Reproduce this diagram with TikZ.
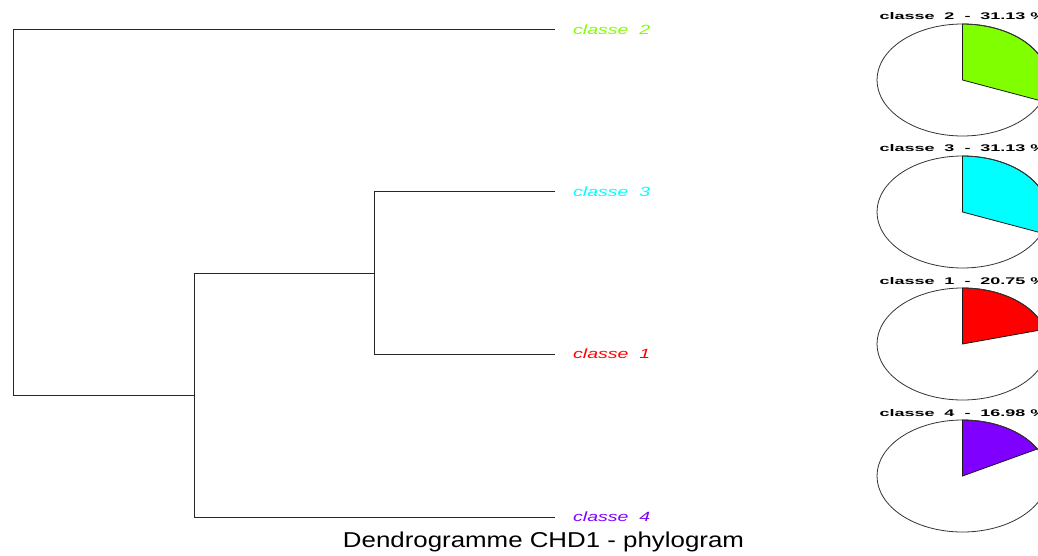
\documentclass[tikz,border=0pt]{standalone}
\usepackage{fontspec}
\setmainfont{Liberation Sans}
\usepackage{graphicx}
\definecolor{cOne}{HTML}{FF0000}
\definecolor{cTwo}{HTML}{80FF00}
\definecolor{cThree}{HTML}{00FFFF}
\definecolor{cFour}{HTML}{8000FF}
\tikzset{
  branch/.style={draw=black!85, line width=1pt},
  leaflabel/.style={inner sep=0pt, anchor=base west},
  pietitle/.style={inner sep=0pt, anchor=base},
  pieslice/.style={draw=black!90, line width=0.8pt},
  pieoutline/.style={draw=black!80, line width=0.8pt},
}
\newcommand{\leaftxt}[1]{\resizebox{77pt}{9.7pt}{\itshape classe\ \ #1}}
\newcommand{\pietxt}[2]{\resizebox{167pt}{7pt}{\bfseries classe\ \ #1\ \ -\ \ #2 \%}}
\begin{document}
\begin{tikzpicture}[x=1pt,y=-1pt]
\useasboundingbox (0,0) rectangle (1038,556);
\clip (0,0) rectangle (1038,556);
\fill[white] (0,0) rectangle (1038,556);
% dendrogram coordinates
\coordinate (L2) at (555,30);
\coordinate (L3) at (555,192);
\coordinate (L1) at (555,354);
\coordinate (L4) at (555,517);
\coordinate (N31) at (374.5,273);
\coordinate (N) at (194,395);
\coordinate (R) at (13,395);
% branches
\draw[branch] (L2) -| (R);
\draw[branch] (R) -- (N);
\draw[branch] (L4) -| (N);
\draw[branch] (N31) -| (N);
\draw[branch] (L3) -| (N31);
\draw[branch] (L1) -| (N31);
% leaf labels
\node[leaflabel, text=cTwo] (t2) at (573,34.3) {\leaftxt{2}};
\node[leaflabel, text=cThree] (t3) at (573,196.3) {\leaftxt{3}};
\node[leaflabel, text=cOne] (t1) at (573,358.3) {\leaftxt{1}};
\node[leaflabel, text=cFour] (t4) at (573,521.3) {\leaftxt{4}};
% title
\node[inner sep=0pt, anchor=base] (title) at (543.5,547.3)
  {\resizebox{401pt}{15.6pt}{Dendrogramme CHD1 - phylogram}};
% pies
\coordinate (P2) at (962.5,80);
\coordinate (P3) at (962.5,212);
\coordinate (P1) at (962.5,344);
\coordinate (P4) at (962.5,476);
\foreach \p/\col/\ang in {P2/cTwo/22.07, P3/cThree/22.07, P1/cOne/-15.3, P4/cFour/-28.87}{
  \fill[white] (\p) ellipse[x radius=85.5, y radius=56];
  \filldraw[pieslice, fill=\col] (\p) -- ++(0,-56)
     arc[start angle=-90, end angle=\ang, x radius=85.5, y radius=56] -- cycle;
  \draw[pieoutline] (\p) ellipse[x radius=85.5, y radius=56];
}
\node[pietitle] (pt2) at (963,20) {\pietxt{2}{31.13}};
\node[pietitle] (pt3) at (963,152) {\pietxt{3}{31.13}};
\node[pietitle] (pt1) at (963,284) {\pietxt{1}{20.75}};
\node[pietitle] (pt4) at (963,416) {\pietxt{4}{16.98}};
\end{tikzpicture}
\end{document}
